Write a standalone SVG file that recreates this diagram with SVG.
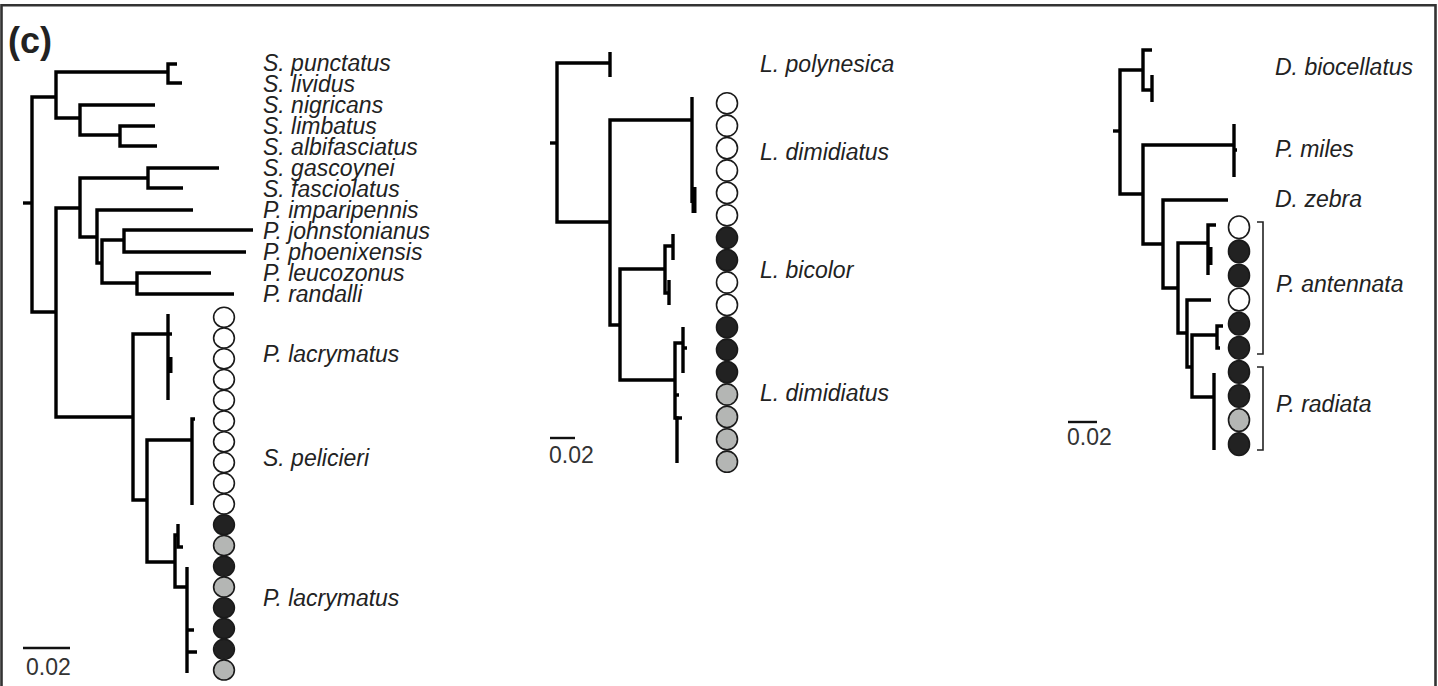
<svg xmlns="http://www.w3.org/2000/svg" width="1438" height="686" viewBox="0 0 1438 686">
<style>
.frame{stroke:#333;stroke-width:2.6;fill:none}
.br{fill:none;stroke:#000;stroke-width:3.4;stroke-linejoin:miter;stroke-linecap:butt}
.thick{fill:none;stroke:#000;stroke-width:5}
.brk{fill:none;stroke:#222;stroke-width:1.6}
.sb{stroke:#111;stroke-width:2.4}
.lab{font-family:"Liberation Sans",Arial,sans-serif;font-style:italic;font-size:23px;fill:#222}
.sbt{font-family:"Liberation Sans",Arial,sans-serif;font-size:23px;fill:#333}
.ttl{font-family:"Liberation Sans",Arial,sans-serif;font-weight:bold;font-size:36px;fill:#222}
.w{fill:#fff;stroke:#1a1a1a;stroke-width:1.6}
.b{fill:#222;stroke:#1a1a1a;stroke-width:1.6}
.g{fill:#b4b6b4;stroke:#1a1a1a;stroke-width:1.6}
</style>
<g id="frame">
<path class="frame" d="M1.5,686 V5.3 H1435.5 V686"/>
</g>
<g id="title"><text class="ttl" x="8" y="53">(c)</text></g>
<g id="connectors">
<g id="tree-left">
<path class="br" d="M23,203 H32"/>
<path class="br" d="M56,97 H32 V312 H56"/>
<path class="br" d="M168,72 H56 V118 H80"/>
<path class="br" d="M177,64 H168 V83 H182"/>
<path class="br" d="M155,105 H80 V135 H120"/>
<path class="br" d="M155,126 H120 V146 H157"/>
<path class="br" d="M80,208 H56 V417 H133"/>
<path class="br" d="M148,178 H80 V237 H97"/>
<path class="br" d="M219,168 H148 V188 H183"/>
<path class="br" d="M193,210 H97 V263 H102"/>
<path class="br" d="M124,240 H102 V283 H137"/>
<path class="br" d="M253,230 H124 V252 H246"/>
<path class="br" d="M211,273 H137 V294 H234"/>
<path class="br" d="M172,334 H133 V500 H147"/>
<path class="br" d="M168,314 V400"/>
<path class="thick" d="M170,357 V373"/>
<path class="br" d="M192,440 H147 V562 H175"/>
<path class="br" d="M195,419 H192 V505"/>
<path class="br" d="M178,535 H175 V587 H187"/>
<path class="br" d="M178,524 V547 H183"/>
<path class="br" d="M187,567 V673"/>
<path class="br" d="M187,630 H194 M187,652 H197"/>
</g>
<g id="tree-middle">
<path class="br" d="M550,143 H557"/>
<path class="br" d="M610,63 H557 V222 H610"/>
<path class="br" d="M610,52 V77"/>
<path class="br" d="M692,120 H610 V325 H620"/>
<path class="br" d="M692,97 V203"/>
<path class="thick" d="M694,187 V213"/>
<path class="br" d="M665,269 H620 V380 H675"/>
<path class="br" d="M673,246 H665 V293 H669"/>
<path class="br" d="M673,234 V260 M669,280 V305"/>
<path class="br" d="M683,343 H675 V418 H677 V463"/>
<path class="br" d="M683,327 V373 M683,348 H687 M675,395 H679 M675,418 H682"/>
</g>
<g id="tree-right">
<path class="br" d="M1113,131 H1120"/>
<path class="br" d="M1143,70 H1120 V194 H1143"/>
<path class="br" d="M1152,50 H1143 V90 H1152"/>
<path class="br" d="M1152,75 V102"/>
<path class="br" d="M1234,145 H1143 V244 H1163"/>
<path class="br" d="M1234,124 V177 M1234,150 H1237"/>
<path class="br" d="M1228,200 H1163 V288 H1178"/>
<path class="br" d="M1208,243 H1178 V333 H1187"/>
<path class="br" d="M1216,225 H1208 V275"/>
<path class="thick" d="M1210,247 V265"/>
<path class="br" d="M1211,300 H1187 V367 H1192"/>
<path class="br" d="M1217,335 H1192 V397 H1213"/>
<path class="br" d="M1223,326 H1217 V348 H1220"/>
<path class="br" d="M1214,373 V450"/>
</g>
<g id="brackets">
<path class="brk" d="M1257,222 H1263 V354 H1257"/>
<path class="brk" d="M1257,367 H1263 V450 H1257"/>
</g>
</g>
<g id="labels-left">
<text class="lab" x="263" y="71">S. punctatus</text>
<text class="lab" x="263" y="92">S. lividus</text>
<text class="lab" x="263" y="113">S. nigricans</text>
<text class="lab" x="263" y="134">S. limbatus</text>
<text class="lab" x="263" y="155">S. albifasciatus</text>
<text class="lab" x="263" y="176">S. gascoynei</text>
<text class="lab" x="263" y="197">S. fasciolatus</text>
<text class="lab" x="263" y="218">P. imparipennis</text>
<text class="lab" x="263" y="239">P. johnstonianus</text>
<text class="lab" x="263" y="260">P. phoenixensis</text>
<text class="lab" x="263" y="281">P. leucozonus</text>
<text class="lab" x="263" y="302">P. randalli</text>
<text class="lab" x="263" y="362">P. lacrymatus</text>
<text class="lab" x="263" y="466">S. pelicieri</text>
<text class="lab" x="263" y="606">P. lacrymatus</text>
</g>
<g id="labels-middle">
<text class="lab" x="760" y="72">L. polynesica</text>
<text class="lab" x="760" y="160">L. dimidiatus</text>
<text class="lab" x="760" y="278">L. bicolor</text>
<text class="lab" x="760" y="401">L. dimidiatus</text>
</g>
<g id="labels-right">
<text class="lab" x="1275" y="75">D. biocellatus</text>
<text class="lab" x="1275" y="157">P. miles</text>
<text class="lab" x="1275" y="207">D. zebra</text>
<text class="lab" x="1276" y="292">P. antennata</text>
<text class="lab" x="1276" y="412">P. radiata</text>
</g>
<g id="circles-left">
<ellipse class="w" cx="224" cy="317.3" rx="10.4" ry="10"/>
<ellipse class="w" cx="224" cy="338.05" rx="10.4" ry="10"/>
<ellipse class="w" cx="224" cy="358.8" rx="10.4" ry="10"/>
<ellipse class="w" cx="224" cy="379.55" rx="10.4" ry="10"/>
<ellipse class="w" cx="224" cy="400.3" rx="10.4" ry="10"/>
<ellipse class="w" cx="224" cy="421.05" rx="10.4" ry="10"/>
<ellipse class="w" cx="224" cy="441.8" rx="10.4" ry="10"/>
<ellipse class="w" cx="224" cy="462.55" rx="10.4" ry="10"/>
<ellipse class="w" cx="224" cy="483.3" rx="10.4" ry="10"/>
<ellipse class="w" cx="224" cy="504.05" rx="10.4" ry="10"/>
<ellipse class="b" cx="224" cy="524.8" rx="10.4" ry="10"/>
<ellipse class="g" cx="224" cy="545.55" rx="10.4" ry="10"/>
<ellipse class="b" cx="224" cy="566.3" rx="10.4" ry="10"/>
<ellipse class="g" cx="224" cy="587.05" rx="10.4" ry="10"/>
<ellipse class="b" cx="224" cy="607.8" rx="10.4" ry="10"/>
<ellipse class="b" cx="224" cy="628.55" rx="10.4" ry="10"/>
<ellipse class="b" cx="224" cy="649.3" rx="10.4" ry="10"/>
<ellipse class="g" cx="224" cy="670.05" rx="10.4" ry="10"/>
</g>
<g id="circles-middle">
<ellipse class="w" cx="727" cy="103.3" rx="10.5" ry="10.6"/>
<ellipse class="w" cx="727" cy="125.7" rx="10.5" ry="10.6"/>
<ellipse class="w" cx="727" cy="148.1" rx="10.5" ry="10.6"/>
<ellipse class="w" cx="727" cy="170.5" rx="10.5" ry="10.6"/>
<ellipse class="w" cx="727" cy="192.9" rx="10.5" ry="10.6"/>
<ellipse class="w" cx="727" cy="215.3" rx="10.5" ry="10.6"/>
<ellipse class="b" cx="727" cy="237.7" rx="10.5" ry="10.6"/>
<ellipse class="b" cx="727" cy="260.1" rx="10.5" ry="10.6"/>
<ellipse class="w" cx="727" cy="282.5" rx="10.5" ry="10.6"/>
<ellipse class="w" cx="727" cy="304.9" rx="10.5" ry="10.6"/>
<ellipse class="b" cx="727" cy="327.3" rx="10.5" ry="10.6"/>
<ellipse class="b" cx="727" cy="349.7" rx="10.5" ry="10.6"/>
<ellipse class="b" cx="727" cy="372.1" rx="10.5" ry="10.6"/>
<ellipse class="g" cx="727" cy="394.5" rx="10.5" ry="10.6"/>
<ellipse class="g" cx="727" cy="416.9" rx="10.5" ry="10.6"/>
<ellipse class="g" cx="727" cy="439.3" rx="10.5" ry="10.6"/>
<ellipse class="g" cx="727" cy="461.7" rx="10.5" ry="10.6"/>
</g>
<g id="circles-right">
<ellipse class="w" cx="1239" cy="227.3" rx="10.5" ry="11.3"/>
<ellipse class="b" cx="1239" cy="251.4" rx="10.5" ry="11.3"/>
<ellipse class="b" cx="1239" cy="275.5" rx="10.5" ry="11.3"/>
<ellipse class="w" cx="1239" cy="299.6" rx="10.5" ry="11.3"/>
<ellipse class="b" cx="1239" cy="323.7" rx="10.5" ry="11.3"/>
<ellipse class="b" cx="1239" cy="347.8" rx="10.5" ry="11.3"/>
<ellipse class="b" cx="1239" cy="371.9" rx="10.5" ry="11.3"/>
<ellipse class="b" cx="1239" cy="396" rx="10.5" ry="11.3"/>
<ellipse class="g" cx="1239" cy="420.1" rx="10.5" ry="11.3"/>
<ellipse class="b" cx="1239" cy="444.2" rx="10.5" ry="11.3"/>
</g>
<g id="scalebar-left">
<line class="sb" x1="23" y1="648" x2="70" y2="648"/>
<text class="sbt" x="26" y="675">0.02</text>
</g>
<g id="scalebar-middle">
<line class="sb" x1="550" y1="438" x2="575" y2="438"/>
<text class="sbt" x="549" y="463">0.02</text>
</g>
<g id="scalebar-right">
<line class="sb" x1="1068" y1="422" x2="1097" y2="422"/>
<text class="sbt" x="1067" y="445">0.02</text>
</g>
</svg>
